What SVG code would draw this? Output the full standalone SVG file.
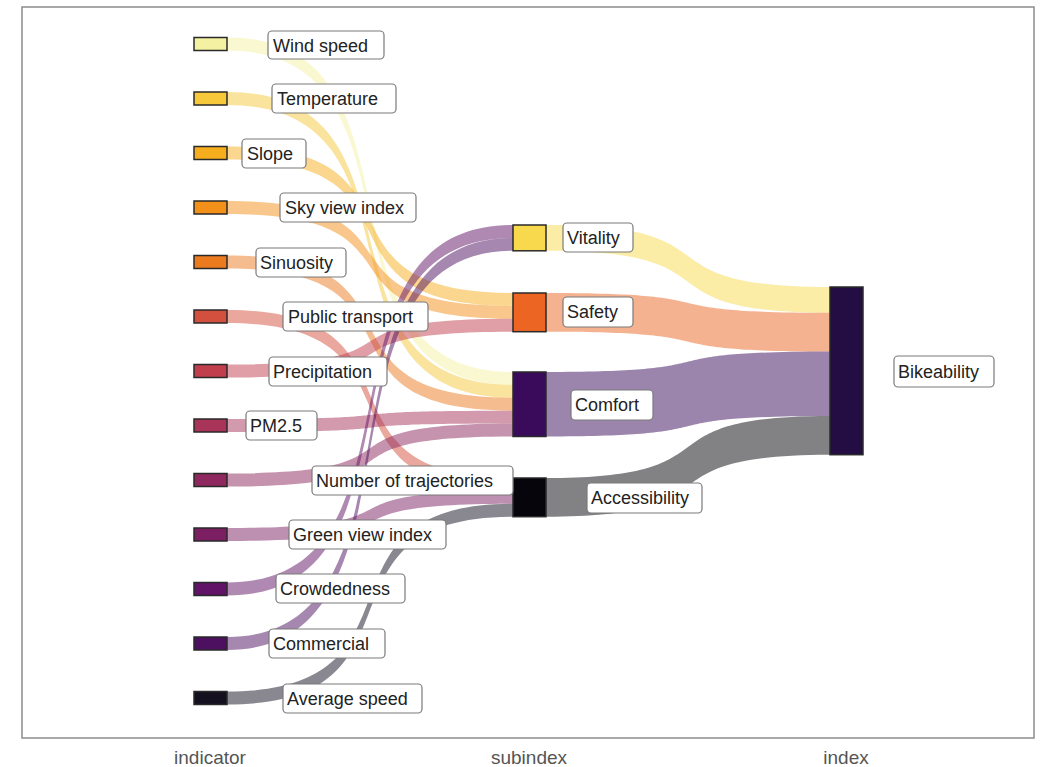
<svg xmlns="http://www.w3.org/2000/svg" width="1048" height="767" viewBox="0 0 1048 767">
<style>
.flow{fill-opacity:0.5;stroke:none}
.node{stroke:#2a2a2a;stroke-width:1.5}
.lbl rect{fill:#ffffff;stroke:#7a7a7a;stroke-width:1.2}
.lbl text{font-family:"Liberation Sans",Arial,sans-serif;font-size:18px;fill:#222222}
.axis{font-family:"Liberation Sans",Arial,sans-serif;font-size:19px;fill:#555555;text-anchor:middle}
</style>
<rect x="0" y="0" width="1048" height="767" fill="#ffffff"/>
<rect x="22" y="7" width="1012" height="731" fill="none" stroke="#8c8c8c" stroke-width="1.5"/>
<g id="connectors">
<path class="flow" fill="#f4f1a2" d="M227,37.5 C441,37.5 299,372 513,372 L513,384.9 C299,384.9 441,50.5 227,50.5 Z"/>
<path class="flow" fill="#f6c83a" d="M227,92 C441,92 299,384.9 513,384.9 L513,397.8 C299,397.8 441,105 227,105 Z"/>
<path class="flow" fill="#f6ad1e" d="M227,146.5 C441,146.5 299,293 513,293 L513,305.9 C299,305.9 441,159.5 227,159.5 Z"/>
<path class="flow" fill="#f3901a" d="M227,201 C441,201 299,305.9 513,305.9 L513,318.8 C299,318.8 441,214 227,214 Z"/>
<path class="flow" fill="#ec7a1f" d="M227,255.5 C441,255.5 299,397.8 513,397.8 L513,410.7 C299,410.7 441,268.5 227,268.5 Z"/>
<path class="flow" fill="#d4503e" d="M227,310 C441,310 299,478 513,478 L513,490.9 C299,490.9 441,323 227,323 Z"/>
<path class="flow" fill="#c13f4d" d="M227,364.5 C441,364.5 299,318.8 513,318.8 L513,331.7 C299,331.7 441,377.5 227,377.5 Z"/>
<path class="flow" fill="#a8345a" d="M227,419 C441,419 299,410.7 513,410.7 L513,423.6 C299,423.6 441,432 227,432 Z"/>
<path class="flow" fill="#8e285e" d="M227,473.5 C441,473.5 299,423.6 513,423.6 L513,436.5 C299,436.5 441,486.5 227,486.5 Z"/>
<path class="flow" fill="#7b1f62" d="M227,528 C441,528 299,490.9 513,490.9 L513,503.8 C299,503.8 441,541 227,541 Z"/>
<path class="flow" fill="#611467" d="M227,582.5 C441,582.5 299,225 513,225 L513,237.9 C299,237.9 441,595.5 227,595.5 Z"/>
<path class="flow" fill="#4d0f5f" d="M227,637 C441,637 299,237.9 513,237.9 L513,250.8 C299,250.8 441,650 227,650 Z"/>
<path class="flow" fill="#14101f" d="M227,691.5 C441,691.5 299,503.8 513,503.8 L513,516.7 C299,516.7 441,704.5 227,704.5 Z"/>
<path class="flow" fill="#f8d94e" d="M546,225 C745,225 631,287 830,287 L830,312.8 C631,312.8 745,250.8 546,250.8 Z"/>
<path class="flow" fill="#ec6523" d="M546,293 C745,293 631,312.8 830,312.8 L830,351.5 C631,351.5 745,331.7 546,331.7 Z"/>
<path class="flow" fill="#3a0b5a" d="M546,372 C745,372 631,351.5 830,351.5 L830,416 C631,416 745,436.5 546,436.5 Z"/>
<path class="flow" fill="#06050b" d="M546,478 C745,478 631,416 830,416 L830,454.7 C631,454.7 745,516.7 546,516.7 Z"/>
</g>
<g id="n-wind"><rect class="node" x="194" y="37.5" width="33" height="13" fill="#f4f1a2"/></g>
<g id="n-temp"><rect class="node" x="194" y="92" width="33" height="13" fill="#f6c83a"/></g>
<g id="n-slope"><rect class="node" x="194" y="146.5" width="33" height="13" fill="#f6ad1e"/></g>
<g id="n-sky"><rect class="node" x="194" y="201" width="33" height="13" fill="#f3901a"/></g>
<g id="n-sinuosity"><rect class="node" x="194" y="255.5" width="33" height="13" fill="#ec7a1f"/></g>
<g id="n-pt"><rect class="node" x="194" y="310" width="33" height="13" fill="#d4503e"/></g>
<g id="n-precip"><rect class="node" x="194" y="364.5" width="33" height="13" fill="#c13f4d"/></g>
<g id="n-pm25"><rect class="node" x="194" y="419" width="33" height="13" fill="#a8345a"/></g>
<g id="n-traj"><rect class="node" x="194" y="473.5" width="33" height="13" fill="#8e285e"/></g>
<g id="n-green"><rect class="node" x="194" y="528" width="33" height="13" fill="#7b1f62"/></g>
<g id="n-crowd"><rect class="node" x="194" y="582.5" width="33" height="13" fill="#611467"/></g>
<g id="n-comm"><rect class="node" x="194" y="637" width="33" height="13" fill="#4d0f5f"/></g>
<g id="n-speed"><rect class="node" x="194" y="691.5" width="33" height="13" fill="#14101f"/></g>
<g id="n-vitality"><rect class="node" x="513" y="225" width="33" height="25.8" fill="#f8d94e"/></g>
<g id="n-safety"><rect class="node" x="513" y="293" width="33" height="38.7" fill="#ec6523"/></g>
<g id="n-comfort"><rect class="node" x="513" y="372" width="33" height="64.5" fill="#3a0b5a"/></g>
<g id="n-access"><rect class="node" x="513" y="478" width="33" height="38.7" fill="#06050b"/></g>
<g id="n-bike"><rect class="node" x="830" y="287" width="33" height="167.7" fill="#230d42"/></g>
<g id="labels">
<g class="lbl" id="l-wind"><rect x="268" y="31" width="116" height="28" rx="4"/><text x="273" y="51.5">Wind speed</text></g>
<g class="lbl" id="l-temp"><rect x="272" y="84" width="124" height="29" rx="4"/><text x="277" y="105">Temperature</text></g>
<g class="lbl" id="l-slope"><rect x="242" y="139" width="64" height="29" rx="4"/><text x="247" y="160">Slope</text></g>
<g class="lbl" id="l-sky"><rect x="280" y="193" width="136" height="29" rx="4"/><text x="285" y="214">Sky view index</text></g>
<g class="lbl" id="l-sinuosity"><rect x="256" y="248" width="90" height="29" rx="4"/><text x="260" y="269">Sinuosity</text></g>
<g class="lbl" id="l-pt"><rect x="283" y="302" width="145" height="29" rx="4"/><text x="288" y="323">Public transport</text></g>
<g class="lbl" id="l-precip"><rect x="269" y="357" width="118" height="29" rx="4"/><text x="273" y="378">Precipitation</text></g>
<g class="lbl" id="l-pm25"><rect x="246" y="411" width="71" height="29" rx="4"/><text x="250" y="432">PM2.5</text></g>
<g class="lbl" id="l-traj"><rect x="312" y="466" width="201" height="29" rx="4"/><text x="316" y="487">Number of trajectories</text></g>
<g class="lbl" id="l-green"><rect x="289" y="520" width="157" height="29" rx="4"/><text x="293" y="541">Green view index</text></g>
<g class="lbl" id="l-crowd"><rect x="276" y="574" width="129" height="29" rx="4"/><text x="280" y="595">Crowdedness</text></g>
<g class="lbl" id="l-comm"><rect x="269" y="629" width="116" height="29" rx="4"/><text x="273" y="650">Commercial</text></g>
<g class="lbl" id="l-speed"><rect x="283" y="684" width="139" height="29" rx="4"/><text x="287" y="705">Average speed</text></g>
<g class="lbl" id="l-vitality"><rect x="563" y="223" width="70" height="29" rx="4"/><text x="567" y="244">Vitality</text></g>
<g class="lbl" id="l-safety"><rect x="563" y="297" width="70" height="30" rx="4"/><text x="567" y="318">Safety</text></g>
<g class="lbl" id="l-comfort"><rect x="571" y="390" width="82" height="30" rx="4"/><text x="575" y="411">Comfort</text></g>
<g class="lbl" id="l-access"><rect x="587" y="483" width="115" height="30" rx="4"/><text x="591" y="504">Accessibility</text></g>
<g class="lbl" id="l-bike"><rect x="894" y="356" width="100" height="31" rx="4"/><text x="898" y="378">Bikeability</text></g>
</g>
<text class="axis" x="210" y="764">indicator</text>
<text class="axis" x="529" y="764">subindex</text>
<text class="axis" x="846" y="764">index</text>
</svg>
